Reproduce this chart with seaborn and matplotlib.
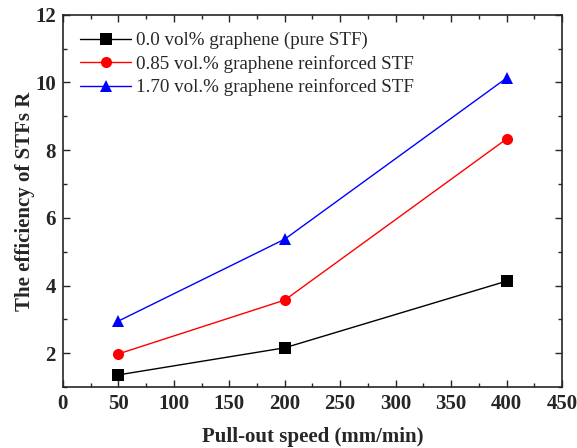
import pandas as pd
import matplotlib.pyplot as plt
import seaborn as sns
from matplotlib.ticker import MultipleLocator

# Data
speed = [50, 200, 400]
r_pure = [1.36, 2.16, 4.13]
r_085 = [1.98, 3.57, 8.33]
r_170 = [2.95, 5.37, 10.13]
labels = ['0.0 vol% graphene (pure STF)',
          '0.85 vol.% graphene reinforced STF',
          '1.70 vol.% graphene reinforced STF']

df = pd.DataFrame({
    'speed': speed * 3,
    'R': r_pure + r_085 + r_170,
    'group': [labels[0]] * 3 + [labels[1]] * 3 + [labels[2]] * 3,
})

sns.set_style('ticks')
plt.rcParams['font.family'] = ['Liberation Serif', 'DejaVu Serif']

fig = plt.figure(figsize=(5.77, 4.48), dpi=100)
ax = fig.add_axes([0.109, 0.136, 0.865, 0.831])

sns.lineplot(data=df, x='speed', y='R', hue='group', style='group',
             palette=['black', 'red', 'blue'], markers=['s', 'o', '^'],
             dashes=False, markersize=8, markeredgewidth=0, linewidth=1,
             ax=ax)

ax.set_xlim(0, 450)
ax.set_ylim(1, 12)
ax.xaxis.set_major_locator(MultipleLocator(50))
ax.xaxis.set_minor_locator(MultipleLocator(25))
ax.yaxis.set_major_locator(MultipleLocator(2))
ax.yaxis.set_minor_locator(MultipleLocator(1))
ax.tick_params(which='both', direction='in', top=True, right=True, width=1)
ax.tick_params(which='major', length=5, labelsize=15, pad=5)
ax.tick_params(which='minor', length=3)
for lbl in ax.get_xticklabels() + ax.get_yticklabels():
    lbl.set_fontweight('bold')
for sp in ax.spines.values():
    sp.set_linewidth(1.2)

ax.set_xlabel('Pull-out speed (mm/min)', fontsize=15, fontweight='bold', labelpad=9)
ax.set_ylabel('The efficiency of STFs R', fontsize=15, fontweight='bold', labelpad=0)

leg = ax.legend(loc='upper left', frameon=False, fontsize=13.7,
                handlelength=2.7, handletextpad=0.25,
                borderaxespad=0.5, labelspacing=0.3)

fig.savefig('out.png', dpi=100)
